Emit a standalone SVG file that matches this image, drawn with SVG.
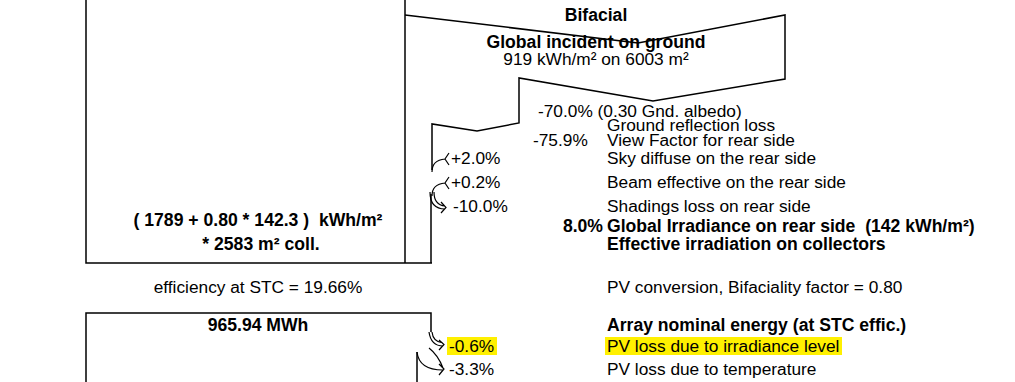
<svg xmlns="http://www.w3.org/2000/svg" width="1015" height="382" viewBox="0 0 1015 382">
<style>
.ln{fill:none;stroke:#000;stroke-width:1.5;stroke-linejoin:miter}
.ar{fill:none;stroke:#000;stroke-width:1.2}
.t{font-family:"Liberation Sans",Arial,sans-serif;font-size:17.3px;fill:#000}
.b{font-weight:bold;font-size:17.6px}
.m{text-anchor:middle}
.e{text-anchor:end}
.hl{fill:#FFF000}
</style>
<rect width="1015" height="382" fill="#fff"/>
<g id="connectors">
<path class="ln" d="M86,0 V263 H432"/>
<path class="ln" d="M405,0 V263"/>
<path class="ln" d="M405,15 L638,43 L785,15 V79 L653,101 L519,78 V123 L477,131 L432,124 V170"/>
<path class="ln" d="M431,194 V263"/>
<path class="ln" d="M86,382 V313 H431 V332"/>
<path class="ln" d="M417,352 V382"/>
<path class="ar" d="M432,172 Q432,160 445,159 M449,153 L445,159 L449,165"/>
<path class="ar" d="M432,196 Q432,184 445,183 M449,177 L445,183 L449,189"/>
<path class="ar" d="M430,192 Q430,209 445,209 M434,192 Q434,205 445,206 M441,202 L446,207.5 L441,213"/>
<path class="ar" d="M429,332 Q431,346 443,346 M432,332 Q433,342 443,343 M439,340 L444,344.5 L439,350"/>
<path class="ar" d="M417,352 Q419,370 443,370 M429,348 Q438,355 443,368 M439,364 L444,369 L439,375"/>
</g>
<g id="bifacial">
<text class="t b m" x="596" y="21">Bifacial</text>
<text class="t b m" x="596" y="48">Global incident on ground</text>
<text class="t m" x="596" y="65">919 kWh/m² on 6003 m²</text>
</g>
<g id="ground-reflection">
<text class="t" x="538" y="117">-70.0% (0.30 Gnd. albedo)</text>
<text class="t" x="607" y="131">Ground reflection loss</text>
</g>
<g id="view-factor">
<text class="t" x="533" y="146">-75.9%</text>
<text class="t" x="607" y="146">View Factor for rear side</text>
</g>
<g id="sky-diffuse">
<text class="t" x="451" y="164">+2.0%</text>
<text class="t" x="607" y="164">Sky diffuse on the rear side</text>
</g>
<g id="beam-effective">
<text class="t" x="451" y="188">+0.2%</text>
<text class="t" x="607" y="188">Beam effective on the rear side</text>
</g>
<g id="shadings-rear">
<text class="t" x="453" y="212">-10.0%</text>
<text class="t" x="607" y="212">Shadings loss on rear side</text>
</g>
<g id="global-rear">
<text class="t b e" x="603" y="232">8.0%</text>
<text class="t b" x="607" y="232" xml:space="preserve">Global Irradiance on rear side  (142 kWh/m²)</text>
</g>
<g id="effective-irradiation">
<text class="t b" x="607" y="250">Effective irradiation on collectors</text>
<text class="t b m" x="258" y="226" xml:space="preserve">( 1789 + 0.80 * 142.3 )  kWh/m²</text>
<text class="t b m" x="261" y="250">* 2583 m² coll.</text>
</g>
<g id="pv-conversion">
<text class="t m" x="258" y="293">efficiency at STC = 19.66%</text>
<text class="t" x="607" y="293">PV conversion, Bifaciality factor = 0.80</text>
</g>
<g id="array-nominal">
<text class="t b m" x="258" y="331">965.94 MWh</text>
<text class="t b" x="607" y="331">Array nominal energy (at STC effic.)</text>
</g>
<g id="irradiance-loss">
<rect class="hl" x="447" y="337" width="50" height="18"/>
<rect class="hl" x="605" y="337" width="237" height="18"/>
<text class="t" x="449" y="352">-0.6%</text>
<text class="t" x="607" y="352">PV loss due to irradiance level</text>
</g>
<g id="temperature-loss">
<text class="t" x="449" y="375">-3.3%</text>
<text class="t" x="607" y="375">PV loss due to temperature</text>
</g>
</svg>
